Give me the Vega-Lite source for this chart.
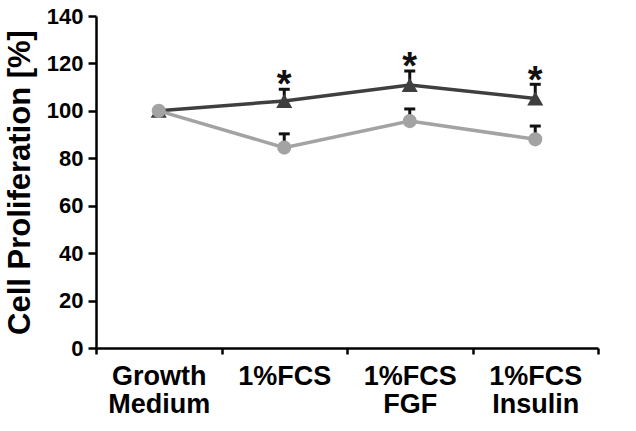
{
  "$schema": "https://vega.github.io/schema/vega-lite/v6.json",
  "width": 502,
  "height": 332,
  "autosize": {"type": "none"},
  "padding": {"left": 96, "top": 16, "right": 38, "bottom": 83},
  "background": "white",
  "config": {
    "view": {"stroke": null},
    "font": "Liberation Sans",
    "axis": {"grid": false, "domainColor": "black", "domainWidth": 2.5, "tickColor": "black", "tickWidth": 2.5, "labelColor": "black", "titleColor": "black", "labelFont": "Liberation Sans", "titleFont": "Liberation Sans", "labelFontWeight": "bold", "titleFontWeight": "bold"}
  },
  "data": {
    "values": [
      {"condition": "Growth Medium", "series": "A", "value": 100, "upper": null, "star": null},
      {"condition": "1%FCS", "series": "A", "value": 104.2, "upper": 109.1, "star": 114.9},
      {"condition": "1%FCS FGF", "series": "A", "value": 110.9, "upper": 116.8, "star": 122.5},
      {"condition": "1%FCS Insulin", "series": "A", "value": 105.2, "upper": 111.2, "star": 116.4},
      {"condition": "Growth Medium", "series": "B", "value": 100, "upper": null, "star": null},
      {"condition": "1%FCS", "series": "B", "value": 84.5, "upper": 90.3, "star": null},
      {"condition": "1%FCS FGF", "series": "B", "value": 95.7, "upper": 100.8, "star": null},
      {"condition": "1%FCS Insulin", "series": "B", "value": 88.0, "upper": 93.6, "star": null}
    ]
  },
  "encoding": {
    "x": {
      "field": "condition", "type": "nominal",
      "sort": ["Growth Medium", "1%FCS", "1%FCS FGF", "1%FCS Insulin"],
      "scale": {"paddingInner": 0, "paddingOuter": 0},
      "axis": {"title": null, "labelAngle": 0, "tickBand": "extent", "tickSize": 6, "labelPadding": 9, "labelFontSize": 27, "labelLineHeight": 28, "labelExpr": "split(datum.label, ' ')", "labelBaseline": "top"}
    }
  },
  "layer": [
    {
      "transform": [{"filter": "datum.upper != null"}],
      "mark": {"type": "rule", "color": "#111111", "strokeWidth": 3},
      "encoding": {
        "y": {
          "field": "value", "type": "quantitative",
          "scale": {"domain": [0, 140], "nice": false},
          "axis": {"title": "Cell Proliferation [%]", "titleFontSize": 31, "titlePadding": 10, "values": [0, 20, 40, 60, 80, 100, 120, 140], "labelFontSize": 22, "tickSize": 8, "labelPadding": 5}
        },
        "y2": {"field": "upper"}
      }
    },
    {
      "transform": [{"filter": "datum.upper != null"}],
      "mark": {"type": "tick", "color": "#111111", "size": 11, "thickness": 3, "opacity": 1},
      "encoding": {
        "y": {"field": "upper", "type": "quantitative"}
      }
    },
    {
      "mark": {"type": "line", "strokeWidth": 3.5},
      "encoding": {
        "y": {"field": "value", "type": "quantitative"},
        "color": {"field": "series", "type": "nominal", "scale": {"domain": ["A", "B"], "range": ["#3f3f3f", "#a3a3a3"]}, "legend": null},
        "detail": {"field": "series"}
      }
    },
    {
      "transform": [{"filter": "datum.series == 'A'"}],
      "mark": {"type": "point", "shape": "triangle-up", "filled": true, "opacity": 1, "size": 260, "color": "#3f3f3f"},
      "encoding": {"y": {"field": "value", "type": "quantitative"}}
    },
    {
      "transform": [{"filter": "datum.series == 'B'"}],
      "mark": {"type": "point", "shape": "circle", "filled": true, "opacity": 1, "size": 200, "color": "#a3a3a3"},
      "encoding": {"y": {"field": "value", "type": "quantitative"}}
    },
    {
      "transform": [{"filter": "datum.star != null"}],
      "mark": {"type": "text", "text": "*", "fontSize": 38, "fontWeight": "bold", "color": "#111111", "baseline": "alphabetic", "dy": 21},
      "encoding": {"y": {"field": "star", "type": "quantitative"}}
    }
  ]
}
